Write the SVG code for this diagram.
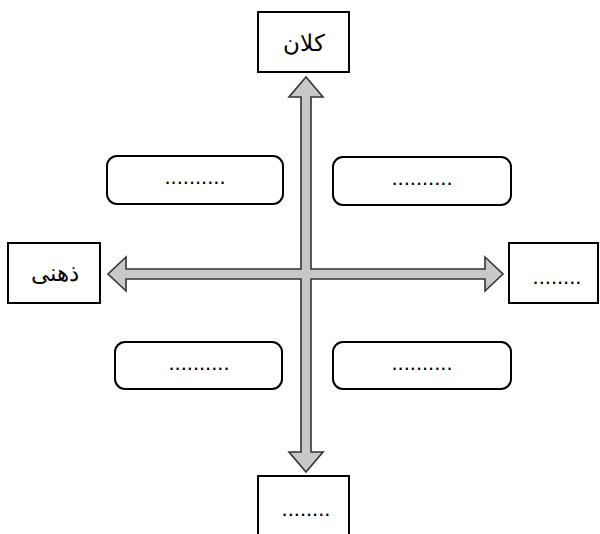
<svg xmlns="http://www.w3.org/2000/svg" width="600" height="534" viewBox="0 0 600 534">
<style>
.box{fill:#fff;stroke:#000;stroke-width:2}
.rbox{fill:#fff;stroke:#000;stroke-width:2}
.t{font-family:"Liberation Sans","Noto Sans",sans-serif;font-size:23px;fill:#000;text-anchor:middle}
.d{font-family:"Liberation Sans",sans-serif;font-size:22px;fill:#000;text-anchor:middle}
.arrow{fill:#c8c8c8;stroke:#333;stroke-width:1.6;stroke-linejoin:miter}
</style>
<rect width="600" height="534" fill="#fff"/>
<g id="connectors">
<path class="arrow" d="M306,77 L323,97 L311,97 L311,269 L485,269 L485,257 L503,274 L485,291 L485,279 L311,279 L311,452 L323,452 L306,472 L289,452 L301,452 L301,279 L126,279 L126,291 L108,274 L126,257 L126,269 L301,269 L301,97 L289,97 Z"/>
</g>
<g id="top">
<rect class="box" x="258" y="12" width="91" height="60"/>
<text class="t" x="303.5" y="51" direction="rtl">کلان</text>
</g>
<g id="left">
<rect class="box" x="8" y="243" width="92" height="60"/>
<text class="t" x="55" y="281" direction="rtl">ذهنی</text>
</g>
<g id="right">
<rect class="box" x="509" y="243" width="89" height="60"/>
<text class="d" x="557" y="284">........</text>
</g>
<g id="bottom">
<rect class="box" x="258" y="476" width="91" height="70"/>
<text class="d" x="306" y="516">........</text>
</g>
<g id="tl">
<rect class="rbox" x="107" y="156" width="176" height="48" rx="10"/>
<text class="d" x="195" y="184">..........</text>
</g>
<g id="tr">
<rect class="rbox" x="333" y="157" width="178" height="48" rx="10"/>
<text class="d" x="422" y="185">..........</text>
</g>
<g id="bl">
<rect class="rbox" x="115" y="342" width="167" height="47" rx="10"/>
<text class="d" x="199" y="370">..........</text>
</g>
<g id="br">
<rect class="rbox" x="333" y="342" width="178" height="47" rx="10"/>
<text class="d" x="422" y="370">..........</text>
</g>
</svg>
